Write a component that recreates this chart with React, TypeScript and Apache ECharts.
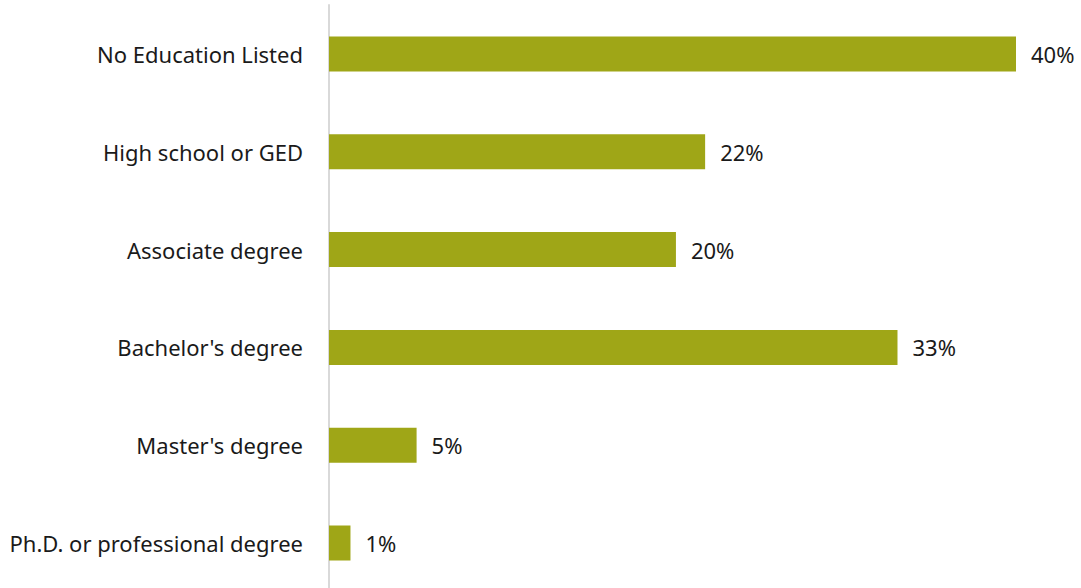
import React, { useEffect, useRef } from "react";
import * as echarts from "echarts";

const categories = [
  "No Education Listed",
  "High school or GED",
  "Associate degree",
  "Bachelor's degree",
  "Master's degree",
  "Ph.D. or professional degree",
];
const values = [40, 21.9, 20.2, 33.1, 5.1, 1.25];

export default function App() {
  const ref = useRef<HTMLDivElement>(null);
  useEffect(() => {
    if (!ref.current) return;
    const chart = echarts.init(ref.current, null, { renderer: "svg" });
    chart.setOption({
      animation: false,
      backgroundColor: "#ffffff",
      grid: { left: 329, right: 65, top: 5, height: 587, containLabel: false },
      xAxis: {
        type: "value",
        min: 0,
        max: 40,
        show: false,
      },
      yAxis: {
        type: "category",
        inverse: true,
        data: categories,
        axisLine: { show: true, lineStyle: { color: "#d9d9d9", width: 2 } },
        axisTick: { show: false },
        axisLabel: {
          margin: 26,
          color: "#1a1a1a",
          fontSize: 22,
          fontFamily: "Noto Sans",
        },
        splitLine: { show: false },
      },
      series: [
        {
          type: "bar",
          data: values,
          barWidth: 35,
          itemStyle: { color: "#9fa617" },
          label: {
            show: true,
            position: "right",
            distance: 15,
            color: "#1a1a1a",
            fontSize: 22,
            fontFamily: "Noto Sans",
            formatter: (p: any) => Math.round(p.value) + "%",
          },
        },
      ],
    });
    return () => chart.dispose();
  }, []);
  return (
    <div
      ref={ref}
      style={{ position: "fixed", left: 0, top: 0, width: 1081, height: 600 }}
    />
  );
}
